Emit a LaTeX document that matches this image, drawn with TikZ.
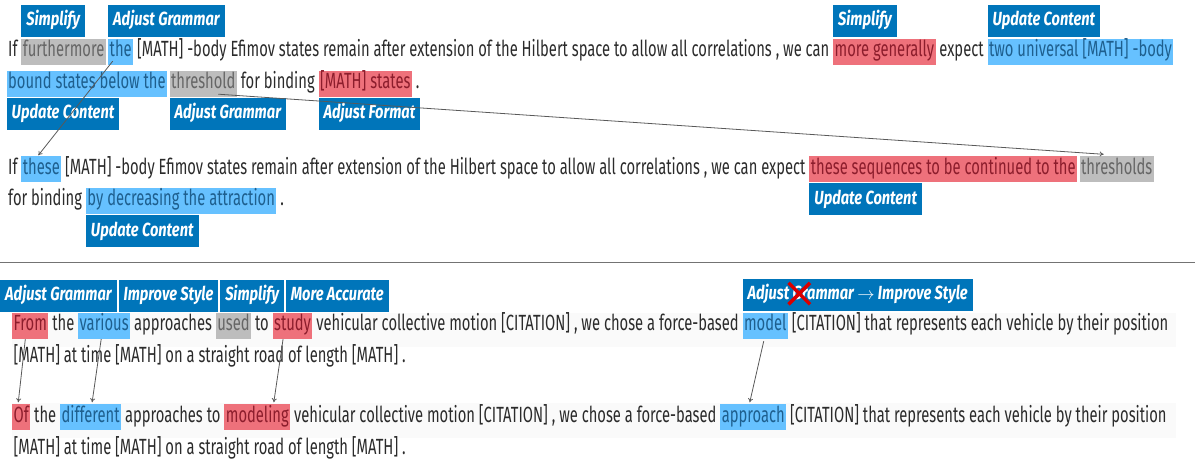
\documentclass[tikz,border=0pt]{standalone}
\usepackage{fontspec}
\setmainfont{Fira Sans}[FakeStretch=0.67]
\newfontfamily\tagfont{Fira Sans}[FakeStretch=0.77]
\usetikzlibrary{arrows.meta,positioning,shapes.misc}
\definecolor{tagblue}{HTML}{0075BA}
\definecolor{hlblue}{HTML}{66C1FF}
\definecolor{hlred}{HTML}{EE717B}
\definecolor{hlgray}{HTML}{BDBDBD}
\definecolor{txblue}{HTML}{1E5F8E}
\definecolor{txred}{HTML}{8C1D2C}
\definecolor{txgray}{HTML}{666666}
\definecolor{txdark}{HTML}{2B2B2B}
\tikzset{x=1pt,y=1pt,node distance=2pt,
  word/.style={inner xsep=1.5pt,inner ysep=3pt,text height=15pt,text depth=5pt,font=\fontsize{22}{26}\selectfont,text=txdark},
  blue word/.style={word,fill=hlblue,text=txblue},
  red word/.style={word,fill=hlred,text=txred},
  gray word/.style={word,fill=hlgray,text=txgray},
  tag/.style={fill=tagblue,text=white,font=\fontsize{19}{22}\tagfont\bfseries\itshape,inner xsep=5pt,inner ysep=6.75pt,text height=14pt,text depth=4.5pt},
  link/.style={draw=black!65,line width=0.8pt,-{To[length=4pt,width=5pt]}}}

\begin{document}
\begin{tikzpicture}
    \useasboundingbox (0,0) rectangle (1195,-462);
    % faint backgrounds of the lower sentences
    \fill[black!2] (12,-313) rectangle (1176,-347);
    \fill[black!2] (12,-403) rectangle (1176,-438);

    % first sentence, source
    \node[word, anchor=west] (a1) at (6.5,-52) {If};
    \node[gray word] (a2) [right=of a1] {furthermore};
    \node[blue word] (a3) [right=of a2] {the};
    \node[word] (a4) [right=of a3] {[MATH] -body Efimov states remain after extension of the Hilbert space to allow all correlations , we can};
    \node[red word] (a5) [right=of a4] {more generally};
    \node[word] (a6) [right=of a5] {expect};
    \node[blue word] (a7) [right=of a6] {two universal [MATH] -body};
    \node[blue word, anchor=west] (b1) at (6.5,-84) {bound states below the};
    \node[gray word] (b2) [right=of b1] {threshold};
    \node[word] (b3) [right=of b2] {for binding};
    \node[red word] (b4) [right=of b3] {[MATH] states};
    \node[word] (b5) [right=of b4] {.};
    \node[tag] (t1) [above right=2pt and 0pt of a2.north west] {Simplify};
    \node[tag] (t2) [above right=2pt and 0pt of a3.north west] {Adjust Grammar};
    \node[tag] (t3) [above right=2pt and 0pt of a5.north west] {Simplify};
    \node[tag] (t4) [above right=2pt and 0pt of a7.north west] {Update Content};
    \node[tag] (t5) [below right=0.5pt and 0pt of b1.south west] {Update Content};
    \node[tag] (t6) [below right=0.5pt and 0pt of b2.south west] {Adjust Grammar};
    \node[tag] (t7) [below right=0.5pt and 0pt of b4.south west] {Adjust Format};

    % first sentence, revision
    \node[word, anchor=west] (c1) at (6.5,-169.5) {If};
    \node[blue word] (c2) [right=of c1] {these};
    \node[word] (c3) [right=of c2] {[MATH] -body Efimov states remain after extension of the Hilbert space to allow all correlations , we can expect};
    \node[red word] (c4) [right=of c3] {these sequences to be continued to the};
    \node[gray word] (c5) [right=of c4] {thresholds};
    \node[word, anchor=west] (d1) at (6.5,-201) {for binding};
    \node[blue word] (d2) [right=of d1] {by decreasing the attraction};
    \node[word] (d3) [right=of d2] {.};
    \node[tag] (t8) [below right=0.5pt and 0pt of c4.south west] {Update Content};
    \node[tag] (t9) [below right=1pt and 0pt of d2.south west] {Update Content};
    \draw[link] ([xshift=-8pt,yshift=4pt]a3.south) -- ([xshift=-3pt,yshift=1pt]c2.north);
    \draw[link] ([xshift=15pt,yshift=3pt]b2.south) -- ([xshift=-13pt,yshift=2pt]c5.north);

    \coordinate (sepl) at (0,-262);
    \coordinate (sepr) at (1195,-262);
    \draw[black!55, line width=0.8pt] (sepl) -- (sepr);

    % second sentence, source
    \node[tag, anchor=west] (u1) at (0,-296) {Adjust Grammar};
    \node[tag] (u2) [right=1.5pt of u1] {Improve Style};
    \node[tag] (u3) [right=1.5pt of u2] {Simplify};
    \node[tag] (u4) [right=1.5pt of u3] {More Accurate};
    \node[red word, anchor=west] (e1) at (12,-326) {From};
    \node[word] (e2) [right=of e1] {the};
    \node[blue word] (e3) [right=of e2] {various};
    \node[word] (e4) [right=of e3] {approaches};
    \node[gray word] (e5) [right=of e4] {used};
    \node[word] (e6) [right=of e5] {to};
    \node[red word] (e7) [right=of e6] {study};
    \node[word] (e8) [right=of e7] {vehicular collective motion [CITATION] , we chose a force-based};
    \node[blue word] (e9) [right=of e8] {model};
    \node[word] (e10) [right=of e9] {[CITATION] that represents each vehicle by their position};
    \node[word, anchor=west] (f1) at (12,-358) {[MATH] at time [MATH] on a straight road of length [MATH] .};
    \node[tag] (u5) [above right=2pt and 0pt of e9.north west] {Adjust Grammar $\rightarrow$ Improve Style};
    \node[cross out, draw=red!85!black, line width=3.5pt, minimum size=18pt] (ux) at ([xshift=57pt,yshift=1pt]u5.west) {};

    % second sentence, revision
    \node[red word, anchor=west] (g1) at (12,-417.5) {Of};
    \node[word] (g2) [right=of g1] {the};
    \node[blue word] (g3) [right=of g2] {different};
    \node[word] (g4) [right=of g3] {approaches to};
    \node[red word] (g5) [right=of g4] {modeling};
    \node[word] (g6) [right=of g5] {vehicular collective motion [CITATION] , we chose a force-based};
    \node[blue word] (g7) [right=of g6] {approach};
    \node[word] (g8) [right=of g7] {[CITATION] that represents each vehicle by their position};
    \node[word, anchor=west] (h1) at (12,-449.5) {[MATH] at time [MATH] on a straight road of length [MATH] .};
    \draw[link] ([xshift=-5pt]e1.south) -- ([xshift=-3pt,yshift=2pt]g1.north);
    \draw[link] ([xshift=-3pt]e3.south) -- ([xshift=1.5pt,yshift=2pt]g3.north);
    \draw[link] ([xshift=-9.5pt]e7.south) -- ([xshift=16.5pt,yshift=2pt]g5.north);
    \draw[link] ([xshift=-1.5pt,yshift=-2pt]e9.south) -- ([xshift=-3.5pt,yshift=2pt]g7.north);
\end{tikzpicture}
\end{document}
